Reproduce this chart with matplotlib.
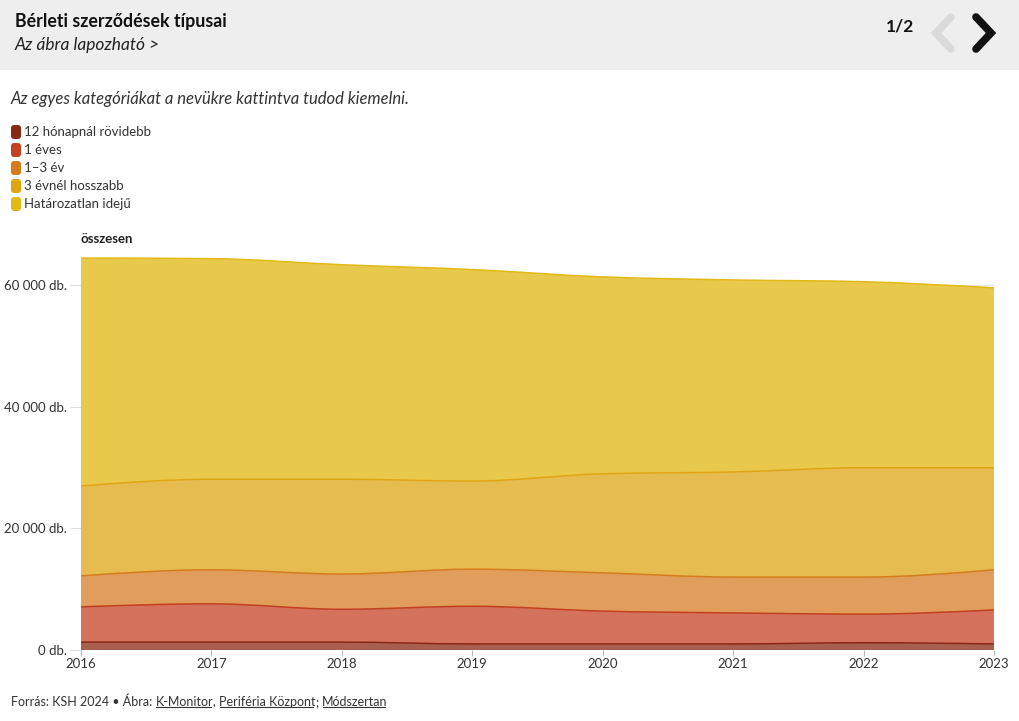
import numpy as np
import matplotlib
matplotlib.use("Agg")
import matplotlib.pyplot as plt
from matplotlib.path import Path
from matplotlib.patches import PathPatch, FancyBboxPatch, Rectangle
from matplotlib.lines import Line2D
from matplotlib.text import Annotation
from matplotlib.transforms import IdentityTransform

plt.rcParams['font.family'] = ['Lato', 'DejaVu Sans']

years = [2016, 2017, 2018, 2019, 2020, 2021, 2022, 2023]
categories = ["12 hónapnál rövidebb", "1 éves", "1–3 év", "3 évnél hosszabb", "Határozatlan idejű"]
short_12m = [1300, 1300, 1300, 1000, 1000, 1000, 1200, 1000]
one_year = [5800, 6300, 5400, 6200, 5400, 5100, 4700, 5600]
one_three = [5100, 5600, 5800, 6100, 6300, 5900, 6100, 6600]
over_three = [14800, 14900, 15600, 14500, 16300, 17300, 18000, 16800]
indefinite = [37500, 36300, 35300, 34800, 32400, 31600, 30600, 29600]
series = [short_12m, one_year, one_three, over_three, indefinite]

line_colors = ["#8b2813", "#c4401f", "#d67d1b", "#e2a512", "#e3b917"]
fill_colors = ["#a85f50", "#d4725d", "#e09d5b", "#e6bb50", "#e8c94b"]
yticks = [0, 20000, 40000, 60000]
ytick_labels = ["0 db.", "20 000 db.", "40 000 db.", "60 000 db."]

W, H = 1020, 721


def fx(px):
    return px / W


def fy(py):
    return 1 - py / H


def monotone_segments(xs, ys):
    # d3 curveMonotoneX style bezier control points
    xs = np.asarray(xs, float)
    ys = np.asarray(ys, float)
    n = len(xs)
    h = np.diff(xs)
    s = np.diff(ys) / h
    t = np.zeros(n)
    for i in range(1, n - 1):
        p = (s[i - 1] * h[i] + s[i] * h[i - 1]) / (h[i - 1] + h[i])
        t[i] = (np.sign(s[i - 1]) + np.sign(s[i])) * min(abs(s[i - 1]), abs(s[i]), 0.5 * abs(p))
    t[0] = (3 * s[0] - t[1]) / 2
    t[-1] = (3 * s[-1] - t[-2]) / 2
    verts = [(xs[0], ys[0])]
    codes = [Path.MOVETO]
    for i in range(n - 1):
        dx = h[i] / 3
        verts += [(xs[i] + dx, ys[i] + dx * t[i]),
                  (xs[i + 1] - dx, ys[i + 1] - dx * t[i + 1]),
                  (xs[i + 1], ys[i + 1])]
        codes += [Path.CURVE4] * 3
    return verts, codes


fig = plt.figure(figsize=(W / 100, H / 100), dpi=100)

# header band
fig.patches.append(Rectangle((0, fy(70)), 1, 70 / H, transform=fig.transFigure,
                             facecolor="#eeeeee", edgecolor="none", zorder=0))
fig.text(fx(15), fy(22), "Bérleti szerződések típusai", fontsize=12.8, fontweight="bold",
         va="center", color="#111111")
fig.text(fx(15), fy(45), "Az ábra lapozható >", fontsize=12.5, style="italic",
         va="center", color="#222222")
fig.text(fx(900), fy(27), "1/2", fontsize=12.5, fontweight="bold", va="center", ha="center",
         color="#111111")
fig.lines.append(Line2D([fx(951), fx(936), fx(951)], [fy(17), fy(33), fy(49)],
                        transform=fig.transFigure, color="#dadada", lw=5.5,
                        solid_capstyle="round", solid_joinstyle="miter"))
fig.lines.append(Line2D([fx(976), fx(991), fx(976)], [fy(17), fy(33), fy(49)],
                        transform=fig.transFigure, color="#111111", lw=5.5,
                        solid_capstyle="round", solid_joinstyle="miter"))

fig.text(fx(11), fy(99), "Az egyes kategóriákat a nevükre kattintva tudod kiemelni.",
         fontsize=12, style="italic", va="center", color="#333333")

# legend
for i, (name, col) in enumerate(zip(categories, line_colors)):
    yc = 132 + 18 * i
    fig.patches.append(FancyBboxPatch((11, H - yc - 7), 10, 14,
                                      boxstyle="round,pad=0,rounding_size=3",
                                      transform=IdentityTransform(), facecolor=col,
                                      edgecolor="none"))
    fig.text(fx(24), fy(yc), name, fontsize=9.5, va="center", color="#333333")

ax = fig.add_axes([fx(81), fy(650), (994 - 81) / W, (650 - 255) / H])
ax.set_xlim(2016, 2023)
ax.set_ylim(0, 65000)

bottom = np.zeros(len(years))
for vals, lc, fc in zip(series, line_colors, fill_colors):
    top = bottom + np.array(vals)
    tv, tc = monotone_segments(years, top)
    bv, bc = monotone_segments(years, bottom)
    bv_rev = bv[::-1]
    verts = tv + [bv_rev[0]] + bv_rev[1:] + [tv[0]]
    codes = tc + [Path.LINETO] + [Path.CURVE4] * (len(bv_rev) - 1) + [Path.CLOSEPOLY]
    ax.add_patch(PathPatch(Path(verts, codes), facecolor=fc, edgecolor="none", zorder=2))
    ax.add_patch(PathPatch(Path(tv, tc), facecolor="none", edgecolor=lc, lw=1.1, zorder=3))
    bottom = top

ax.set_yticks(yticks)
ax.set_yticklabels(ytick_labels)
ax.set_xticks(years)
ax.grid(axis="y", color="#e8e8e8", lw=0.8, zorder=1)
ax.set_axisbelow(True)
for sp in ax.spines.values():
    sp.set_visible(False)
ax.axhline(0, color="#bbbbbb", lw=0.8, zorder=1)
ax.tick_params(axis="y", length=8, color="#e0e0e0", labelsize=9.5, labelcolor="#333333", pad=2)
ax.tick_params(axis="x", length=4, color="#bbbbbb", labelsize=9.5, labelcolor="#333333", pad=2)
ax.text(0, 1.025, "összesen", transform=ax.transAxes, fontsize=9.5, fontweight="bold",
        color="#222222", va="bottom")

# footer, links underlined
t0 = fig.text(fx(11), fy(702), "Forrás: KSH 2024 • Ábra: ", fontsize=9, va="center",
              color="#333333")
pieces = [("K-Monitor", True), (", ", False), ("Periféria Központ", True), ("; ", False),
          ("Módszertan", True)]
prev = t0
links = []
for txt, is_link in pieces:
    t = fig.add_artist(Annotation(txt, xy=(1, 0.5), xycoords=prev, va="center", ha="left",
                                  fontsize=9, color="#333333"))
    if is_link:
        links.append(t)
    prev = t

fig.canvas.draw()
renderer = fig.canvas.get_renderer()
for t in links:
    bb = t.get_window_extent(renderer)
    yline = bb.y0 + 1
    fig.lines.append(Line2D([(bb.x0 + 0.5) / W, (bb.x1 - 2.5) / W], [yline / H, yline / H],
                            transform=fig.transFigure, color="#333333", lw=0.8))

fig.savefig("out.png", dpi=100)
